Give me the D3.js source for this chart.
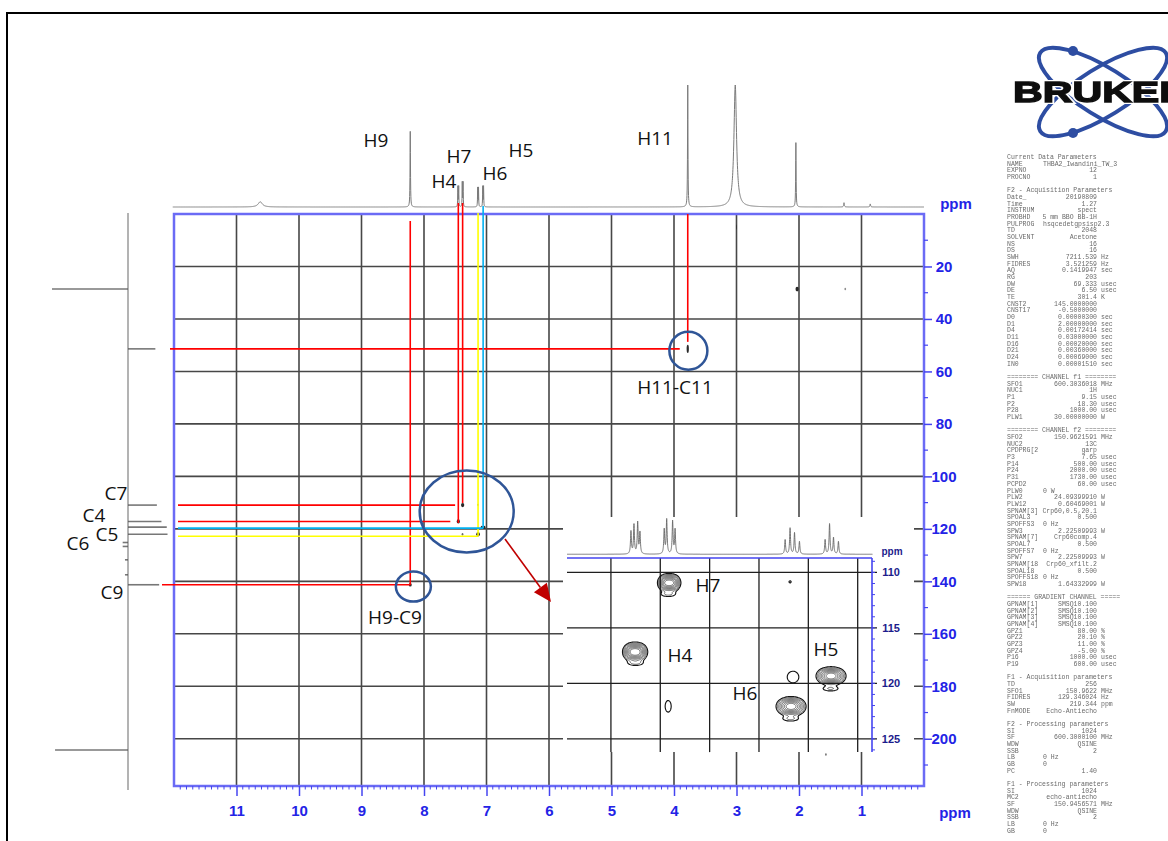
<!DOCTYPE html>
<html>
<head>
<meta charset="utf-8">
<title>HSQC</title>
<script src="https://cdn.jsdelivr.net/npm/d3@7/dist/d3.min.js"></script>
<style>
  html, body { margin:0; padding:0; background:#fff; }
  svg { display:block; }
  .lbl { font-family:"Open Sans","Noto Sans",sans-serif; font-size:19px; fill:#111; }
  .ax text { font-family:"Liberation Sans",Arial,sans-serif; font-weight:bold; }
  .par { font-family:"Liberation Mono","DejaVu Sans Mono",monospace; font-size:6.5px; fill:#6a6a6a; }
</style>
</head>
<body>
<svg id="chart" width="1168" height="841" xmlns="http://www.w3.org/2000/svg"></svg>
<script>
// ---------- assignments (ppm) ----------
const protonNames  = ["H4", "H7", "H6", "H5", "H9", "H11"];
const protonShifts = [7.451, 7.382, 7.135, 7.054, 8.22, 3.78];
const carbonNames  = ["C4", "C7", "C6", "C5", "C9", "C11"];
const carbonShifts = [117.17, 110.94, 122.08, 119.34, 141.3, 51.4];

// ---------- axis ticks ----------
const ticksH = [11, 10, 9, 8, 7, 6, 5, 4, 3, 2, 1];
const ticksC = [20, 40, 60, 80, 100, 120, 140, 160, 180, 200];

// ---------- 1H projection (top trace) ----------
const hPeakPpm    = [10.62, 8.22, 7.458, 7.445, 7.388, 7.375, 7.141, 7.128, 7.060, 7.047, 3.78, 3.02, 2.05, 1.28, 0.86];
const hPeakHeight = [0.043, 0.62, 0.166, 0.166, 0.20, 0.20, 0.156, 0.156, 0.166, 0.166, 1.0, 1.0, 0.527, 0.035, 0.025];
const hPeakHwhm   = [0.04, 0.004, 0.003, 0.003, 0.003, 0.003, 0.003, 0.003, 0.003, 0.003, 0.004, 0.025, 0.004, 0.006, 0.006];

// ---------- 13C projection (left trace) ----------
const cProjPpm = [28.6, 51.4, 110.94, 117.17, 119.34, 122.08, 141.3, 204.3, 125.2, 126.7, 131.8, 137.5];
const cProjInt = [-1.0, 0.36, 0.38, 0.44, 0.51, 0.52, 0.41, -0.96, -0.07, -0.07, -0.04, -0.04];

// ---------- cross peaks, full spectrum ----------
const xpH   = [3.78, 2.03, 1.26, 8.22, 7.382, 7.451, 7.075, 7.035, 7.135, 7.384, 7.137, 3.00, 1.57];
const xpC   = [51.4, 28.6, 28.6, 141.3, 110.94, 117.17, 119.4, 119.4, 122.08, 122.07, 110.85, 5.0, 206.0];
const xpWH  = [0.018, 0.026, 0.014, 0.024, 0.026, 0.026, 0.018, 0.018, 0.03, 0.014, 0.012, 0.008, 0.014];
const xpWC  = [1.6, 0.9, 0.5, 0.7, 0.8, 0.8, 0.6, 0.6, 0.8, 0.45, 0.45, 1.0, 0.5];
const xpInt = [1, 1, 0.35, 1, 1, 1, 1, 1, 1, 0.6, 0.35, 0.35, 0.5];

// ---------- aromatic expansion ----------
const exTicksC = [110, 115, 120, 125];
const exGridH  = [7.5, 7.4, 7.3, 7.2, 7.1, 7.0];
const exPeakH    = [7.382, 7.451, 7.054, 7.135, 7.384, 7.450, 7.055, 7.136, 7.131, 7.384, 7.137];
const exPeakC    = [110.94, 117.17, 119.34, 122.08, 111.96, 118.17, 120.48, 123.19, 119.43, 122.07, 110.85];
const exPeakAmp  = [1, 1, 1, 1, 0.15, 0.15, 0.15, 0.15, 0.12, 0.12, 0.095];
const exPeakWH   = [0.0076, 0.0084, 0.0092, 0.0092, 0.012, 0.012, 0.013, 0.013, 0.013, 0.0068, 0.004];
const exPeakWC   = [0.35, 0.37, 0.35, 0.37, 0.18, 0.18, 0.18, 0.18, 0.58, 0.58, 0.18];
const exPeakJ    = [0.0133, 0.0133, 0.0125, 0.0125, 0, 0, 0, 0, 0, 0, 0];
const exPeakMult = [2, 2, 3, 3, 1, 1, 1, 1, 1, 1, 1];
const exLevels   = [0.08, 0.14, 0.22, 0.33, 0.47, 0.64, 0.84, 1.06];
const exLinePpm  = [7.4594, 7.4533, 7.4458, 7.4412, 7.392, 7.387, 7.375, 7.370, 7.147, 7.137, 7.128, 7.118, 7.066, 7.057, 7.049, 7.039];
const exLineInt  = [0.66, 0.85, 0.91, 0.62, 0.71, 1.0, 0.95, 0.71, 0.42, 0.76, 0.62, 0.37, 0.42, 0.88, 0.48, 0.37];

// ---------- acquisition / processing parameters ----------
const paramLines = [
  "Current Data Parameters",
  "NAME|<THBA2_Iwandini_TW_3",
  "EXPNO|12",
  "PROCNO|1",
  "",
  "F2 - Acquisition Parameters",
  "Date_|20190809",
  "Time|1.27",
  "INSTRUM|spect",
  "PROBHD|5 mm BBO BB-1H",
  "PULPROG|<hsqcedetgpsisp2.3",
  "TD|2048",
  "SOLVENT|Acetone",
  "NS|16",
  "DS|16",
  "SWH|7211.539|Hz",
  "FIDRES|3.521259|Hz",
  "AQ|0.1419947|sec",
  "RG|203",
  "DW|69.333|usec",
  "DE|6.50|usec",
  "TE|301.4|K",
  "CNST2|145.0000000",
  "CNST17|-0.5000000",
  "D0|0.00000300|sec",
  "D1|2.00000000|sec",
  "D4|0.00172414|sec",
  "D11|0.03000000|sec",
  "D16|0.00020000|sec",
  "D21|0.00360000|sec",
  "D24|0.00069000|sec",
  "IN0|0.00001510|sec",
  "",
  "======== CHANNEL f1 ========",
  "SFO1|600.3036018|MHz",
  "NUC1|1H",
  "P1|9.15|usec",
  "P2|18.30|usec",
  "P28|1000.00|usec",
  "PLW1|30.00000000|W",
  "",
  "======== CHANNEL f2 ========",
  "SFO2|150.9621591|MHz",
  "NUC2|13C",
  "CPDPRG[2|garp",
  "P3|7.65|usec",
  "P14|500.00|usec",
  "P24|2000.00|usec",
  "P31|1730.00|usec",
  "PCPD2|60.00|usec",
  "PLW0|<0 W",
  "PLW2|24.09399910|W",
  "PLW12|0.60469001|W",
  "SPNAM[3]|Crp60,0.5,20.1",
  "SPOAL3|0.500",
  "SPOFFS3|<0 Hz",
  "SPW3|2.22509993|W",
  "SPNAM[7]|Crp60comp.4",
  "SPOAL7|0.500",
  "SPOFFS7|<0 Hz",
  "SPW7|2.22509993|W",
  "SPNAM[18|Crp60_xfilt.2",
  "SPOAL18|0.500",
  "SPOFFS18|<0 Hz",
  "SPW18|1.64332999|W",
  "",
  "====== GRADIENT CHANNEL =====",
  "GPNAM[1]|SMSQ10.100",
  "GPNAM[2]|SMSQ10.100",
  "GPNAM[3]|SMSQ10.100",
  "GPNAM[4]|SMSQ10.100",
  "GPZ1|80.00|%",
  "GPZ2|20.10|%",
  "GPZ3|11.00|%",
  "GPZ4|-5.00|%",
  "P16|1000.00|usec",
  "P19|600.00|usec",
  "",
  "F1 - Acquisition parameters",
  "TD|256",
  "SFO1|150.9622|MHz",
  "FIDRES|129.346024|Hz",
  "SW|219.344|ppm",
  "FnMODE|Echo-Antiecho",
  "",
  "F2 - Processing parameters",
  "SI|1024",
  "SF|600.3000100|MHz",
  "WDW|QSINE",
  "SSB|2",
  "LB|<0 Hz",
  "GB|<0",
  "PC|1.40",
  "",
  "F1 - Processing parameters",
  "SI|1024",
  "MC2|echo-antiecho",
  "SF|150.9456571|MHz",
  "WDW|QSINE",
  "SSB|2",
  "LB|<0 Hz",
  "GB|<0"
];

// =====================================================================
const svg = d3.select("#chart");
const defs = svg.append("defs");
defs.append("filter").attr("id", "soft").append("feGaussianBlur").attr("stdDeviation", 0.6);
defs.append("filter").attr("id", "softer").append("feGaussianBlur").attr("stdDeviation", 0.4);

svg.append("rect").attr("width", 1168).attr("height", 841).attr("fill", "#fff");
svg.append("path").attr("d", "M7,841 V13 H1168").attr("fill", "none")
  .attr("stroke", "#000").attr("stroke-width", 2);

const BLUE = "#4444f0", LABEL_BLUE = "#2323e6", GRID = "#474747";
const x = d3.scaleLinear().domain([12, 0]).range([174, 924]);
const y = d3.scaleLinear().domain([0, 218]).range([214, 786]);
const hIdx = n => protonNames.indexOf(n);
const cIdx = n => carbonNames.indexOf(n);

// ---------- top 1H trace ----------
const yTop = d3.scaleLinear().domain([0, 1]).range([207, 85]);
const hSample = d3.merge([d3.range(12.02, -0.001, -0.0025), hPeakPpm]).sort((a, b) => b - a);
const hTrace = hSample.map(p => [p, d3.sum(hPeakPpm, (c, i) => hPeakHeight[i] / (1 + ((p - c) / hPeakHwhm[i]) ** 2))]);
svg.append("path").datum(hTrace)
  .attr("d", d3.line().x(d => x(d[0])).y(d => yTop(Math.min(d[1], 1))))
  .attr("fill", "none").attr("stroke", "#7a7a7a").attr("stroke-width", 1);

// ---------- left 13C trace ----------
const xLeft = d3.scaleLinear().domain([-1, 1]).range([52, 204]);
svg.append("line").attr("x1", xLeft(0)).attr("x2", xLeft(0))
  .attr("y1", y(-0.4)).attr("y2", y(219.5))
  .attr("stroke", "#8a8a8a").attr("stroke-width", 1.3);
svg.append("g").selectAll("line").data(cProjPpm).join("line")
  .attr("x1", xLeft(0)).attr("x2", (d, i) => xLeft(cProjInt[i]))
  .attr("y1", d => y(d)).attr("y2", d => y(d))
  .attr("stroke", "#555").attr("stroke-opacity", 0.8).attr("stroke-width", 1.6);

// ---------- grid ----------
const grid = svg.append("g").attr("stroke", GRID).attr("stroke-width", 1.6);
ticksH.forEach(v => grid.append("line").attr("x1", x(v)).attr("x2", x(v)).attr("y1", y(0)).attr("y2", y(218)));
ticksC.forEach(v => grid.append("line").attr("x1", x(12)).attr("x2", x(0)).attr("y1", y(v)).attr("y2", y(v)));

// ---------- frame and axes ----------
svg.append("rect").attr("x", x(12)).attr("y", y(0))
  .attr("width", x(0) - x(12)).attr("height", y(218) - y(0))
  .attr("fill", "none").attr("stroke", "#6b6bf5").attr("stroke-width", 2.5);

const axR = svg.append("g").attr("class", "ax").attr("transform", `translate(${x(0)},0)`)
  .call(d3.axisRight(y).tickValues(ticksC).tickSize(8).tickFormat(d3.format("d")));
axR.select(".domain").remove();
axR.selectAll("line").attr("stroke", BLUE).attr("stroke-width", 1.5);
axR.selectAll("text").attr("fill", LABEL_BLUE).attr("font-size", 15)
  .attr("text-anchor", "middle").attr("x", 20);
axR.append("g").selectAll("line").data(d3.range(10, 220, 20)).join("line")
  .attr("x1", 0).attr("x2", 4).attr("y1", d => y(d)).attr("y2", d => y(d))
  .attr("stroke", BLUE).attr("stroke-width", 1.2);

const axB = svg.append("g").attr("class", "ax").attr("transform", `translate(0,${y(218)})`)
  .call(d3.axisBottom(x).tickValues(ticksH).tickSize(10).tickFormat(d3.format("d")));
axB.select(".domain").remove();
axB.selectAll("line").attr("stroke", BLUE).attr("stroke-width", 1.5);
axB.selectAll("text").attr("fill", LABEL_BLUE).attr("font-size", 15).attr("y", 19);
axB.append("g").selectAll("line")
  .data(d3.range(1, 120).filter(k => k % 10 !== 0).map(k => k / 10)).join("line")
  .attr("x1", d => x(d)).attr("x2", d => x(d)).attr("y1", 0).attr("y2", 3.5)
  .attr("stroke", BLUE).attr("stroke-width", 1);

[[956, 203], [955, 812]].forEach(p => svg.append("text").attr("x", p[0]).attr("y", p[1])
  .attr("text-anchor", "middle").attr("dominant-baseline", "central")
  .style("font-family", "Liberation Sans, Arial, sans-serif").style("font-weight", "bold")
  .style("font-size", "15px").attr("fill", LABEL_BLUE).text("ppm"));

// ---------- cross peaks ----------
svg.append("g").selectAll("ellipse").data(xpH).join("ellipse")
  .attr("cx", d => x(d)).attr("cy", (d, i) => y(xpC[i]))
  .attr("rx", (d, i) => Math.abs(x(d + xpWH[i]) - x(d)))
  .attr("ry", (d, i) => Math.abs(y(xpC[i] + xpWC[i]) - y(xpC[i])))
  .attr("fill", "#1e1e1e").attr("fill-opacity", (d, i) => 0.25 + 0.7 * xpInt[i]);

// ---------- correlation guide lines ----------
const guides = [
  { h: "H9",  c: "C9",  col: "#ff0000", top: 221, left: 162, vEnd: 0,   hEnd: 0 },
  { h: "H11", c: "C11", col: "#ff0000", top: 214, left: 170, vEnd: -7,  hEnd: -8 },
  { h: "H4",  c: "C4",  col: "#ff0000", top: 203, left: 178, vEnd: 1.5, hEnd: -8 },
  { h: "H7",  c: "C7",  col: "#ff0000", top: 203, left: 178, vEnd: -2,  hEnd: -7.5 },
  { h: "H6",  c: "C6",  col: "#ffff00", top: 213, left: 178, vEnd: 2,   hEnd: 0, hOff: 2 },
  { h: "H5",  c: "C5",  col: "#00b0f0", top: 206, left: 178, vEnd: 1,   hEnd: 0, hOff: 1 }
];
const gl = svg.append("g").attr("stroke-width", 1.6);
guides.forEach(g => {
  const gx = x(protonShifts[hIdx(g.h)]);
  const gy = y(carbonShifts[cIdx(g.c)]);
  gl.append("line").attr("x1", gx).attr("x2", gx).attr("y1", g.top).attr("y2", gy + g.vEnd).attr("stroke", g.col);
  gl.append("line").attr("x1", g.left).attr("x2", gx + g.hEnd)
    .attr("y1", gy + (g.hOff || 0)).attr("y2", gy + (g.hOff || 0)).attr("stroke", g.col);
});

// ---------- highlight circles ----------
const rings = [
  { h: 3.77, c: 52.1, rx: 19, ry: 19 },
  { h: 8.17, c: 142.0, rx: 17.5, ry: 15 },
  { h: 7.317, c: 113.4, rx: 47, ry: 41 }
];
svg.append("g").selectAll("ellipse").data(rings).join("ellipse")
  .attr("cx", d => x(d.h)).attr("cy", d => y(d.c)).attr("rx", d => d.rx).attr("ry", d => d.ry)
  .attr("fill", "none").attr("stroke", "#2f5597").attr("stroke-width", 2.5);

// ---------- arrow to the expansion ----------
const a0 = [505, 539], a1 = [551, 602];
const len = Math.hypot(a1[0] - a0[0], a1[1] - a0[1]);
const u = [(a1[0] - a0[0]) / len, (a1[1] - a0[1]) / len], nrm = [-u[1], u[0]];
const base = [a1[0] - 18 * u[0], a1[1] - 18 * u[1]];
svg.append("line").attr("x1", a0[0]).attr("y1", a0[1]).attr("x2", base[0]).attr("y2", base[1])
  .attr("stroke", "#c00000").attr("stroke-width", 1.6);
svg.append("path").attr("d", `M${a1[0]},${a1[1]} L${base[0] + 8 * nrm[0]},${base[1] + 8 * nrm[1]} L${base[0] - 8 * nrm[0]},${base[1] - 8 * nrm[1]} Z`)
  .attr("fill", "#c00000");

// ---------- expansion of the aromatic region ----------
const xi = d3.scaleLinear().domain([7.589, 6.971]).range([567, 872]);
const yi = d3.scaleLinear().domain([108.7, 126.1]).range([558, 751]);
const ins = svg.append("g");
ins.append("rect").attr("x", 563).attr("y", 517).attr("width", 351).attr("height", 235).attr("fill", "#fff");

const ig = ins.append("g").attr("stroke", "#1f1f1f").attr("stroke-width", 1.3);
exGridH.forEach(v => ig.append("line").attr("x1", xi(v)).attr("x2", xi(v)).attr("y1", yi(108.7)).attr("y2", yi(126.2)));
exTicksC.forEach(v => ig.append("line").attr("x1", xi(7.589)).attr("x2", xi(6.971) + 5).attr("y1", yi(v)).attr("y2", yi(v)));

// expansion 1H trace
const yi1 = d3.scaleLinear().domain([0, 1]).range([554.3, 520]);
const exSample = d3.merge([d3.range(7.589, 6.970, -0.0002), exLinePpm]).sort((a, b) => b - a);
const exTrace = exSample.map(p => [p, d3.sum(exLinePpm, (c, i) => exLineInt[i] / (1 + ((p - c) / 0.0011) ** 2))]);
ins.append("path").datum(exTrace)
  .attr("d", d3.line().x(d => xi(d[0])).y(d => yi1(d[1])))
  .attr("fill", "none").attr("stroke", "#666").attr("stroke-width", 0.9);

// expansion axis
ins.append("line").attr("x1", xi(7.589)).attr("x2", xi(6.971)).attr("y1", yi(108.7)).attr("y2", yi(108.7))
  .attr("stroke", BLUE).attr("stroke-width", 1.6);
ins.append("line").attr("x1", xi(6.971)).attr("x2", xi(6.971)).attr("y1", yi(108.7)).attr("y2", yi(126.2))
  .attr("stroke", BLUE).attr("stroke-width", 1.6);
ins.append("g").selectAll("line").data(d3.range(109, 127)).join("line")
  .attr("x1", xi(6.971)).attr("x2", xi(6.971) + 3).attr("y1", d => yi(d)).attr("y2", d => yi(d))
  .attr("stroke", BLUE).attr("stroke-width", 1);
ins.append("g").selectAll("text").data(exTicksC).join("text")
  .attr("x", 891).attr("y", d => yi(d)).attr("text-anchor", "middle").attr("dominant-baseline", "central")
  .style("font-family", "Liberation Sans, Arial, sans-serif").style("font-weight", "bold").style("font-size", "11px")
  .attr("fill", "#1c1c8c").text(d => d);
ins.append("text").attr("x", 892).attr("y", 551).attr("text-anchor", "middle").attr("dominant-baseline", "central")
  .style("font-family", "Liberation Sans, Arial, sans-serif").style("font-weight", "bold").style("font-size", "10px")
  .attr("fill", "#1c1c8c").text("ppm");

// expansion contours
const CW = 305, CH = 193, X0 = 567, Y0 = 558;
const field = new Array(CW * CH).fill(0);
exPeakH.forEach((h, k) => {
  const n = exPeakMult[k];
  const offs = n === 2 ? [-0.5, 0.5] : n === 3 ? [-1, 0, 1] : [0];
  const wts = n === 3 ? [0.5, 1, 0.5] : offs.map(() => 1);
  const cy = yi(exPeakC[k]) - Y0;
  const sy = Math.abs(yi(exPeakC[k] + exPeakWC[k]) - yi(exPeakC[k]));
  offs.forEach((o, m) => {
    const hh = h + o * exPeakJ[k];
    const cx = xi(hh) - X0;
    const sx = Math.abs(xi(hh + exPeakWH[k]) - xi(hh));
    const i0 = Math.max(0, Math.floor(cx - 5 * sx)), i1 = Math.min(CW - 1, Math.ceil(cx + 5 * sx));
    const j0 = Math.max(0, Math.floor(cy - 5 * sy)), j1 = Math.min(CH - 1, Math.ceil(cy + 5 * sy));
    for (let j = j0; j <= j1; j++) {
      for (let i = i0; i <= i1; i++) {
        const dx = (i + 0.5 - cx) / sx, dy = (j + 0.5 - cy) / sy;
        field[j * CW + i] += exPeakAmp[k] * wts[m] * Math.exp(-0.5 * (dx * dx + dy * dy));
      }
    }
  });
});
const contours = d3.contours().size([CW, CH]).thresholds(exLevels)(field);
ins.append("g").attr("transform", `translate(${X0},${Y0})`)
  .selectAll("path").data(contours).join("path")
  .attr("d", d3.geoPath())
  .attr("fill", "none").attr("stroke", "#151515")
  .attr("stroke-width", (d, i) => i === 0 ? 1.15 : 0.6);

// ---------- text labels ----------
const labels = [
  ["H9", 376, 140], ["H7", 459, 156], ["H5", 521, 150], ["H4", 444, 181], ["H6", 495, 173], ["H11", 655, 138],
  ["C7", 116, 493], ["C4", 94, 515], ["C5", 107, 534], ["C6", 78, 543], ["C9", 112, 592],
  ["H11-C11", 675, 387], ["H9-C9", 395, 617],
  ["H7", 708, 585], ["H4", 680, 655], ["H5", 826, 649], ["H6", 745, 693]
];
svg.append("g").selectAll("text").data(labels).join("text")
  .attr("class", "lbl").attr("x", d => d[1]).attr("y", d => d[2])
  .attr("text-anchor", "middle").attr("dominant-baseline", "central").text(d => d[0]);

// ---------- logo ----------
const logo = svg.append("g").attr("filter", "url(#soft)");
[32, -32].forEach(a => logo.append("ellipse")
  .attr("rx", 74).attr("ry", 24)
  .attr("transform", `translate(1103,92) rotate(${a})`)
  .attr("fill", "none").attr("stroke", "#2d4ea2").attr("stroke-width", 4));
[[1073, 51], [1073, 133]].forEach(p => logo.append("circle").attr("cx", p[0]).attr("cy", p[1]).attr("r", 5).attr("fill", "#2d4ea2"));
const brand = t => t.attr("x", 1013).attr("y", 102)
  .attr("textLength", 176).attr("lengthAdjust", "spacingAndGlyphs")
  .style("font-family", "Liberation Sans, Arial, sans-serif").style("font-weight", "bold").style("font-size", "29px")
  .text("BRUKER");
brand(logo.append("text")).attr("fill", "none").attr("stroke", "#fff").attr("stroke-width", 4);
brand(logo.append("text")).attr("fill", "#111").attr("stroke", "#111").attr("stroke-width", 1.3);

// ---------- parameter listing ----------
const par = svg.append("g").attr("class", "par").attr("filter", "url(#softer)");
paramLines.forEach((ln, i) => {
  const yy = 159 + i * 6.67;
  const parts = ln.split("|");
  par.append("text").attr("x", 1007).attr("y", yy).text(parts[0]);
  if (parts[1] !== undefined) {
    if (parts[1].startsWith("<")) par.append("text").attr("x", 1043).attr("y", yy).text(parts[1].slice(1));
    else par.append("text").attr("x", 1097).attr("y", yy).attr("text-anchor", "end").text(parts[1]);
  }
  if (parts[2]) par.append("text").attr("x", 1101).attr("y", yy).text(parts[2]);
});
</script>
</body>
</html>
